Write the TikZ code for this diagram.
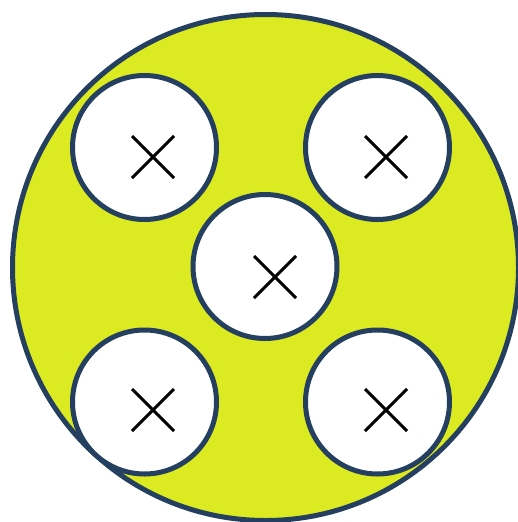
\documentclass[tikz,border=0pt]{standalone}
\definecolor{fillyg}{RGB}{220,234,34}
\definecolor{rim}{RGB}{36,63,96}
\begin{document}
\begin{tikzpicture}[x=1pt,y=-1pt,
  hole/.style={circle,draw=rim,line width=5pt,fill=white,minimum size=144pt,inner sep=0pt},
  crossmark/.style={black,line width=3pt}]
\useasboundingbox (0,0) rectangle (518,522);
\draw[rim,line width=5pt,fill=fillyg] (265.5,267.5) circle (253);
\node[hole] (tl) at (144.5,147.5) {};
\node[hole] (tr) at (377.5,147.5) {};
\node[hole] (c) at (265,266.5) {};
\node[hole] (bl) at (144.5,402) {};
\node[hole] (br) at (377.5,402) {};
\foreach \cx/\cy in {153/157,386/157,275/277,153/410,386/410}{
  \draw[crossmark] (\cx-21,\cy-21) -- (\cx+21,\cy+21) (\cx-21,\cy+21) -- (\cx+21,\cy-21);
}
\end{tikzpicture}
\end{document}
